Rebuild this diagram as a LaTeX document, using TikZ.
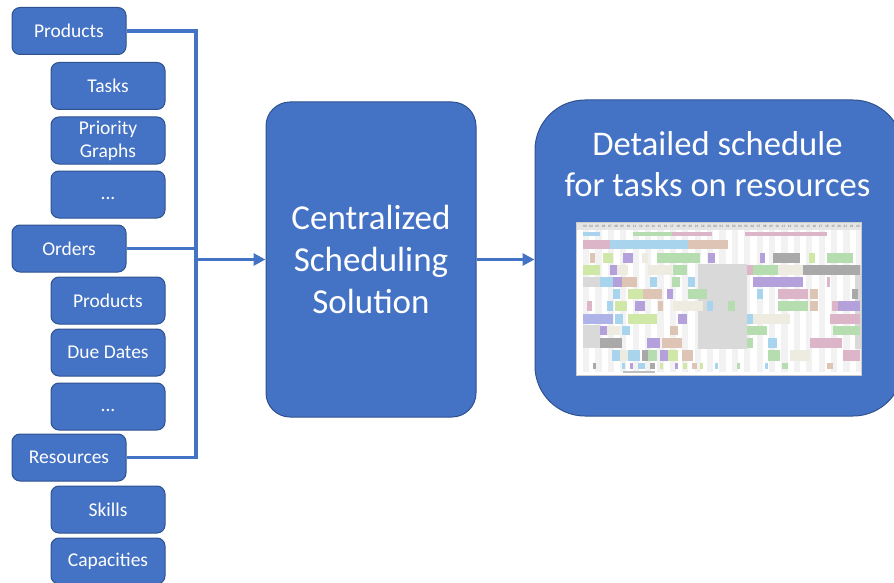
\documentclass[tikz,border=0pt]{standalone}
\usepackage{fontspec}
\setmainfont{Carlito}
\usetikzlibrary{arrows.meta}
\definecolor{boxblue}{HTML}{4472C4}
\definecolor{boxedge}{HTML}{2F528F}
\definecolor{gP}{HTML}{B4A0DA}
\definecolor{gG}{HTML}{B6DDB0}
\definecolor{gK}{HTML}{DDB5C9}
\definecolor{gT}{HTML}{DDC4B4}
\definecolor{gB}{HTML}{A8D4EE}
\definecolor{gY}{HTML}{A9A9A9}
\definecolor{gL}{HTML}{CFE8A8}
\definecolor{gW}{HTML}{EEEBE0}
\definecolor{gV}{HTML}{AFB4E8}
\tikzset{
  bluebox/.style={draw=boxedge, line width=1pt, fill=boxblue, text=white, rounded corners=8pt,
    minimum width=114pt, minimum height=47pt, inner sep=0pt, align=center,
    font=\fontsize{19.5}{23}\selectfont},
  bigbox/.style={draw=boxedge, line width=1pt, fill=boxblue, text=white, inner sep=0pt, align=center,
    font=\fontsize{35}{42}\selectfont},
  conn/.style={draw=boxblue, line width=3.6pt},
  arr/.style={conn, -{Triangle[length=12pt,width=12pt]}},
}
\begin{document}
\begin{tikzpicture}[x=1pt,y=-1pt]
\useasboundingbox (0,0) rectangle (894,583);
\clip (0,0) rectangle (894,583);
% left boxes
\node[bluebox] (prod) at (69,31) {Products};
\node[bluebox] (tasks) at (108,86) {Tasks};
\node[bluebox] (prio) at (108,140.5) {Priority\\Graphs};
\node[bluebox] (dotsA) at (108,194.5) {\vphantom{Pg}...};
\node[bluebox] (ord) at (69,248.5) {Orders};
\node[bluebox] (prodB) at (108,300.5) {Products};
\node[bluebox] (due) at (108,352.5) {Due Dates};
\node[bluebox] (dotsB) at (108,406.5) {\vphantom{Pg}...};
\node[bluebox] (res) at (69,457.5) {Resources};
\node[bluebox] (skills) at (108,509.5) {Skills};
\node[bluebox, minimum height=46pt] (cap) at (108,561) {Capacities};
% central
\node[bigbox, rounded corners=24pt, minimum width=210pt, minimum height=315pt] (central) at (371,259.5)
  {Centralized\\Scheduling\\Solution};
% result
\node[bigbox, rounded corners=50pt, minimum width=368pt, minimum height=316pt] (result) at (719,258) {};
\node[text=white, font=\fontsize{34.6}{41}\selectfont, align=center, inner sep=0pt] (title) at (717.5,164.5)
  {Detailed schedule\\for tasks on resources};
% connectors
\coordinate (busTop) at (196,31);
\coordinate (busBot) at (196,457.5);
\coordinate (busMid) at (196,259.5);
\draw[conn] (prod.east) -- (busTop) -- (busBot) -- (res.east);
\draw[conn] (ord.east) -- (ord.east -| busTop);
\draw[arr] (busMid) -- (central.west);
\draw[arr] (central.east) -- (central.east -| result.west);
% gantt chart picture
\begin{scope}
\fill[white] (576,222) rectangle (861,375);
\foreach \i in {0,...,22} \fill[black!5] (583+\i*12.4,230) rectangle (589.2+\i*12.4,372);
\fill[black!15] (698,264) rectangle (747,349);
\fill[black!15] (583,277) rectangle (600,287);
\fill[black!15] (583,325) rectangle (600,348);
\fill[black!15] (855,265) rectangle (861,349);
\fill[black!10] (576,222) rectangle (861,230);
\foreach \h [count=\k from 0] in {03,04,05,06,07,08,09,10,11,12,13,14,15,16,17,18,19,20,21,22,23,00,01,02,03,04,05,06,07,08,09,10,11,12,13,14,15,16,17,18,19,20,21,22,23}
  \node[font=\fontsize{3.4}{4}\selectfont, text=black!60, inner sep=0pt] at (585+\k*6.2,226) {\h};
% row 0
\foreach \a/\b/\c in {583/600/gB,633/672/gG,672/712/gK,745/827/gK}
  \fill[\c] (\a,231.5) rectangle (\b,236);
% row 1
\foreach \a/\b/\c in {583/610/gK,610/648/gB,648/688/gB,688/728/gT}
  \fill[\c] (\a,240) rectangle (\b,249);
% row 2
\foreach \a/\b/\c in {590/595/gT,603/613/gL,623/633/gP,642/648/gW,657/673/gG,673/700/gG,708/715/gP,760/765/gP,773/800/gY,809/815/gL,827/853/gG}
  \fill[\c] (\a,252.5) rectangle (\b,262.5);
% row 3
\foreach \a/\b/\c in {583/600/gL,610/617/gP,617/628/gW,648/672/gW,673/687/gG,747/753/gK,753/778/gG,778/803/gW,803/827/gY,827/860/gY}
  \fill[\c] (\a,265) rectangle (\b,275);
% row 4
\foreach \a/\b/\c in {600/613/gB,613/622/gP,622/637/gT,650/657/gB,672/680/gG,688/695/gB,753/778/gP,778/803/gP,827/830/gK}
  \fill[\c] (\a,277) rectangle (\b,287);
% row 5
\foreach \a/\b/\c in {613/620/gB,628/643/gL,643/662/gT,667/673/gP,688/707/gG,757/763/gB,778/808/gK,810/818/gT,852/858/gY}
  \fill[\c] (\a,289) rectangle (\b,298.5);
% row 6
\foreach \a/\b/\c in {587/592/gK,607/613/gB,615/627/gL,635/645/gP,658/663/gT,673/703/gW,707/713/gB,728/735/gG,778/808/gG,810/818/gT,832/838/gK,838/860/gP}
  \fill[\c] (\a,301) rectangle (\b,311);
% row 7
\foreach \a/\b/\c in {583/613/gV,615/623/gB,628/642/gL,642/657/gL,678/687/gP,747/753/gB,753/790/gW,830/860/gK}
  \fill[\c] (\a,313.5) rectangle (\b,324);
% row 8
\foreach \a/\b/\c in {600/607/gP,607/620/gW,622/630/gB,670/678/gT,747/767/gG,833/860/gG}
  \fill[\c] (\a,325.5) rectangle (\b,335);
% row 9
\foreach \a/\b/\c in {600/608/gY,608/622/gY,647/660/gP,662/682/gT,747/753/gG,768/777/gB,810/842/gK}
  \fill[\c] (\a,337.5) rectangle (\b,347.5);
% row 10
\foreach \a/\b/\c in {612/620/gB,620/628/gW,628/640/gB,642/648/gY,648/657/gG,660/668/gP,668/678/gL,682/693/gT,768/780/gG,790/810/gW,843/860/gK}
  \fill[\c] (\a,350) rectangle (\b,360.5);
% row 11
\foreach \a/\b/\c in {593/596/gY,622/625/gB,630/633/gP,638/645/gB,650/655/gY,660/663/gL,675/678/gP,683/687/gL,692/697/gT,700/703/gL,715/718/gB,737/740/gG,765/768/gB,782/788/gG,827/833/gT}
  \fill[\c] (\a,363) rectangle (\b,369);
\fill[black!25] (623,371) rectangle (655,373);
\draw[black!20, line width=0.5pt] (576,222) rectangle (861,375);
\end{scope}
\end{tikzpicture}
\end{document}
